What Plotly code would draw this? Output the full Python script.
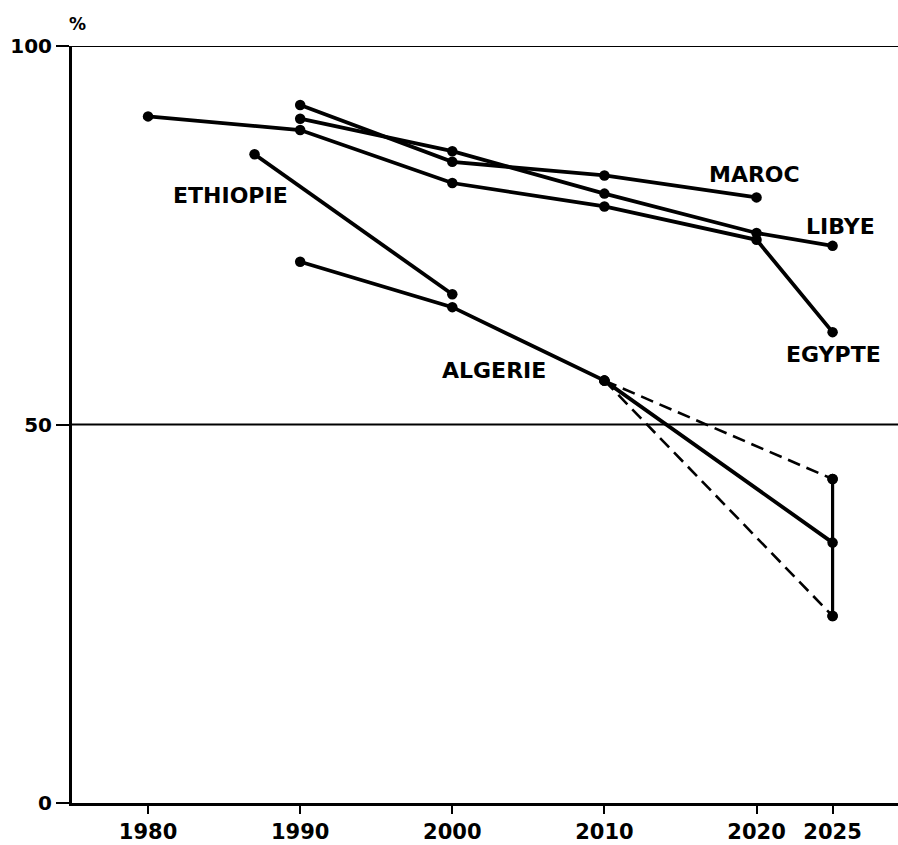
import plotly.graph_objects as go

# ---- data ----
egypte_years = [1980, 1990, 2000, 2010, 2020, 2025]
egypte_vals = [90.7, 88.9, 81.9, 78.8, 74.4, 62.2]

libye_years = [1990, 2000, 2010, 2020, 2025]
libye_vals = [90.4, 86.1, 80.5, 75.3, 73.6]

maroc_years = [1990, 2000, 2010, 2020]
maroc_vals = [92.2, 84.7, 82.9, 80.0]

ethiopie_years = [1987, 2000]
ethiopie_vals = [85.7, 67.2]

algerie_years = [1990, 2000, 2010, 2025]
algerie_vals = [71.5, 65.5, 55.8, 34.4]

algerie_high_years = [2010, 2025]
algerie_high_vals = [55.8, 42.8]
algerie_low_years = [2010, 2025]
algerie_low_vals = [55.8, 24.7]

range_years = [2025, 2025]
range_vals = [24.7, 42.8]

x_ticks = [1980, 1990, 2000, 2010, 2020, 2025]
y_ticks = [0, 50, 100]
ref_lines = [50, 100]

labels = ["ETHIOPIE", "ALGERIE", "MAROC", "LIBYE", "EGYPTE"]
label_x = [1985.45, 2002.75, 2019.85, 2025.55, 2025.05]
label_y = [80.2, 57.1, 83.0, 76.1, 59.3]

# ---- figure ----
BLACK = "#000000"
fig = go.Figure()

def solid(xs, ys, name):
    fig.add_trace(go.Scatter(
        x=xs, y=ys, mode="lines+markers", name=name,
        line=dict(color=BLACK, width=3.8),
        marker=dict(color=BLACK, size=10.5),
        showlegend=False, cliponaxis=False))

solid(egypte_years, egypte_vals, "Egypte")
solid(libye_years, libye_vals, "Libye")
solid(maroc_years, maroc_vals, "Maroc")
solid(ethiopie_years, ethiopie_vals, "Ethiopie")
solid(algerie_years, algerie_vals, "Algerie")

for xs, ys in [(algerie_high_years, algerie_high_vals), (algerie_low_years, algerie_low_vals)]:
    fig.add_trace(go.Scatter(
        x=xs, y=ys, mode="lines+markers",
        line=dict(color=BLACK, width=2.6, dash="13px,7px"),
        marker=dict(color=BLACK, size=10.5),
        showlegend=False, cliponaxis=False))

fig.add_trace(go.Scatter(
    x=range_years, y=range_vals, mode="lines+markers",
    line=dict(color=BLACK, width=3.2),
    marker=dict(color=BLACK, size=10.5),
    showlegend=False, cliponaxis=False))

for v in ref_lines:
    fig.add_shape(type="line", xref="paper", x0=0, x1=1, yref="y", y0=v, y1=v,
                  line=dict(color=BLACK, width=2), layer="below")

for t, x, y in zip(labels, label_x, label_y):
    fig.add_annotation(x=x, y=y, xref="x", yref="y", text=t, showarrow=False,
                       font=dict(family="DejaVu Sans", size=22, color=BLACK, weight="bold"),
                       xanchor="center", yanchor="middle")

fig.add_annotation(x=0.0, y=1.0, xref="paper", yref="paper", text="%",
                   showarrow=False, xanchor="left", yanchor="bottom", xshift=-5, yshift=10,
                   font=dict(family="DejaVu Sans", size=17, color=BLACK, weight="bold"))

fig.update_layout(
    width=898, height=845,
    margin=dict(l=72, r=0, t=46, b=42),
    paper_bgcolor="white", plot_bgcolor="white",
    showlegend=False,
    xaxis=dict(
        range=[1975, 2029.3], tickvals=x_ticks, ticktext=[str(v) for v in x_ticks],
        showgrid=False, zeroline=False, automargin=False,
        showline=True, linecolor=BLACK, linewidth=3,
        ticks="outside", ticklen=8, tickwidth=2, tickcolor=BLACK,
        tickfont=dict(family="DejaVu Sans", size=21, color=BLACK, weight="bold"),
    ),
    yaxis=dict(
        range=[0, 100], tickvals=y_ticks, ticktext=[str(v) for v in y_ticks],
        showgrid=False, zeroline=False, automargin=False,
        showline=True, linecolor=BLACK, linewidth=3,
        ticks="outside", ticklen=13, tickwidth=2, tickcolor=BLACK,
        tickfont=dict(family="DejaVu Sans", size=20, color=BLACK, weight="bold"),
    ),
)

fig.write_html("out.html", config={"displayModeBar": False},
               post_script="document.body.style.margin='0px';document.body.style.overflow='hidden';")
